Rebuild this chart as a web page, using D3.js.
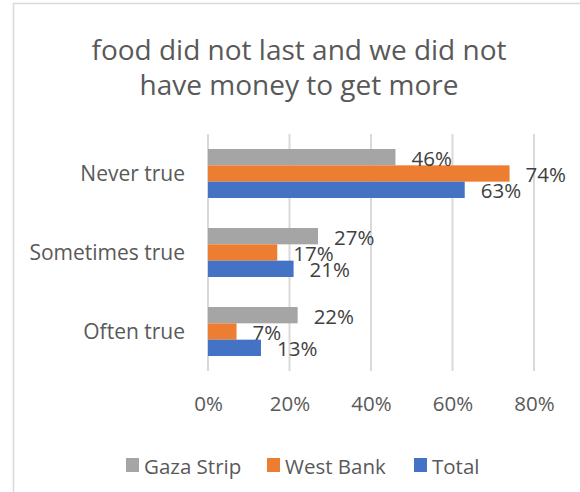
<!DOCTYPE html>
<html>
<head>
<meta charset="utf-8">
<script src="https://cdn.jsdelivr.net/npm/d3@7"></script>
<style>
  html, body { margin: 0; padding: 0; background: #fff; }
  svg { display: block; font-family: "Open Sans", "Noto Sans", sans-serif; }
</style>
</head>
<body>
<svg id="chart" width="580" height="492"></svg>
<script>
// Survey answers, top to bottom
const categories = ["Never true", "Sometimes true", "Often true"];
// Series, drawn in this order inside each group
const seriesNames = ["Gaza Strip", "West Bank", "Total"];
const gazaStrip = [46, 27, 22];
const westBank = [74, 17, 7];
const total = [63, 21, 13];
const xTicks = [0, 20, 40, 60, 80];
const titleLines = ["food did not last and we did not", "have money to get more"];

const seriesValues = [gazaStrip, westBank, total];
const colors = ["#A5A5A5", "#ED7D31", "#4472C4"];

const svg = d3.select("#chart");

// Chart area frame
svg.append("rect")
  .attr("x", 13.5).attr("y", 3.5)
  .attr("width", 600).attr("height", 600)
  .attr("fill", "none").attr("stroke", "#D9D9D9").attr("stroke-width", 1.5);

// Title
svg.append("g").selectAll("text")
  .data(titleLines)
  .join("text")
  .attr("x", 299)
  .attr("y", (d, i) => 59.5 + i * 35.5)
  .attr("text-anchor", "middle")
  .attr("font-size", 28)
  .attr("fill", "#595959")
  .text(d => d);

const plot = { left: 208, right: 534, top: 134, bottom: 371 };

const x = d3.scaleLinear().domain([0, 80]).range([plot.left, plot.right]);
const y0 = d3.scaleBand().domain(categories)
  .range([plot.top, plot.bottom])
  .paddingInner(0.38).paddingOuter(0.19);
const y1 = d3.scaleBand().domain(seriesNames).range([0, y0.bandwidth()]);

// Vertical gridlines
svg.append("g").selectAll("line")
  .data(xTicks)
  .join("line")
  .attr("x1", d => x(d)).attr("x2", d => x(d))
  .attr("y1", plot.top).attr("y2", plot.bottom)
  .attr("stroke", "#D9D9D9").attr("stroke-width", 2);

// X axis tick labels
const xAxis = d3.axisBottom(x).tickValues(xTicks).tickFormat(d => d + "%").tickSize(0).tickPadding(0);
const xg = svg.append("g").attr("transform", `translate(0,${plot.bottom})`).call(xAxis);
xg.select(".domain").remove();
xg.selectAll("text")
  .attr("y", 40).attr("dy", null)
  .attr("font-size", 20.5)
  .attr("font-family", "Open Sans, sans-serif")
  .attr("fill", "#595959");

// Category labels
const yAxis = d3.axisLeft(y0).tickSize(0).tickPadding(23);
const yg = svg.append("g").attr("transform", `translate(${plot.left},0)`).call(yAxis);
yg.select(".domain").remove();
yg.selectAll("text")
  .attr("dy", "0.36em")
  .attr("font-size", 21)
  .attr("font-family", "Open Sans, sans-serif")
  .attr("fill", "#595959");

// Bars and value labels
const rows = [];
categories.forEach((c, ci) => {
  seriesNames.forEach((s, si) => {
    rows.push({ category: c, series: s, value: seriesValues[si][ci], color: colors[si] });
  });
});

const groups = svg.append("g");
groups.selectAll("rect")
  .data(rows)
  .join("rect")
  .attr("x", x(0))
  .attr("y", d => y0(d.category) + y1(d.series))
  .attr("width", d => x(d.value) - x(0))
  .attr("height", y1.bandwidth())
  .attr("fill", d => d.color);

groups.selectAll("text")
  .data(rows)
  .join("text")
  .attr("x", d => x(d.value) + 16)
  .attr("y", d => y0(d.category) + y1(d.series) + y1.bandwidth() / 2 + 8.5)
  .attr("font-size", 20.5)
  .attr("fill", "#404040")
  .text(d => d.value + "%");

// Legend
const legendX = [126, 267, 414];
const legend = svg.append("g").selectAll("g")
  .data(seriesNames)
  .join("g")
  .attr("transform", (d, i) => `translate(${legendX[i]},458)`);
legend.append("rect")
  .attr("width", 13).attr("height", 14)
  .attr("fill", (d, i) => colors[i]);
legend.append("text")
  .attr("x", 18).attr("y", 15.5)
  .attr("font-size", 20.5)
  .attr("fill", "#595959")
  .text(d => d);
</script>
</body>
</html>
